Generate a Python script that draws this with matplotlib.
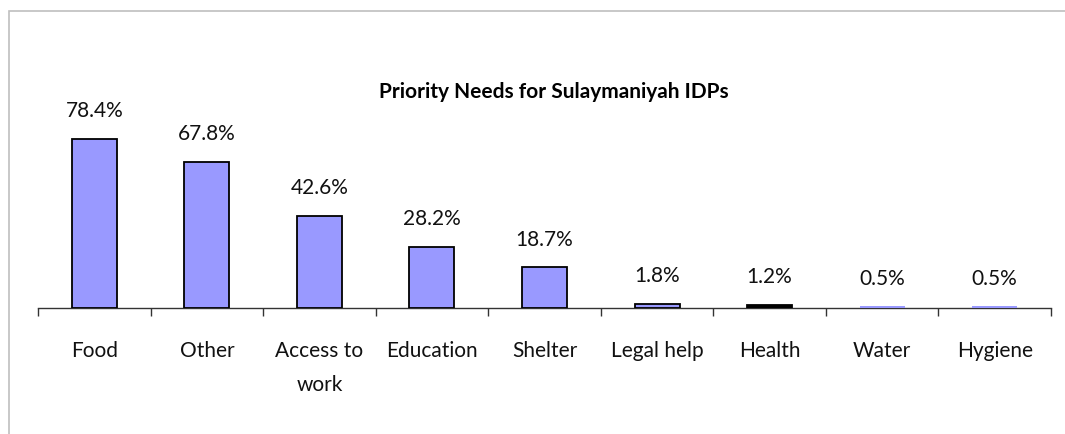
import matplotlib
matplotlib.use("Agg")
import matplotlib.pyplot as plt
from matplotlib.patches import Rectangle
import numpy as np

categories = ["Food", "Other", "Access to\nwork", "Education", "Shelter",
              "Legal help", "Health", "Water", "Hygiene"]
values = [78.4, 67.8, 42.6, 28.2, 18.7, 1.8, 1.2, 0.5, 0.5]
bar_colors = ["#9999FF", "#9999FF", "#9999FF", "#9999FF", "#9999FF",
              "#9999FF", "#000000", "#9999FF", "#9999FF"]
edge_colors = ["black"] * 7 + ["none", "none"]
title = "Priority Needs for Sulaymaniyah IDPs"

plt.rcParams['font.family'] = ['Lato', 'DejaVu Sans']

fig = plt.figure(figsize=(10.65, 4.34), dpi=100)
fig.patch.set_facecolor("white")
fig.add_artist(Rectangle((9/1065, -0.1), 1.2, 1 - 11/434 + 0.1,
                         transform=fig.transFigure, fill=False,
                         edgecolor="#BFBFBF", linewidth=1.2))

ax = fig.add_axes([38/1065, 1 - 307.5/434, (1051 - 38)/1065, (307.5 - 92.5)/434])
x = np.arange(len(categories))
ax.bar(x, values, width=0.40, color=bar_colors, edgecolor=edge_colors, linewidth=1.3, zorder=3)
ax.set_xlim(-0.5, len(categories) - 0.5)
ax.set_ylim(0, 100)

for xi, v in zip(x, values):
    ax.annotate(f"{v:.1f}%", (xi, v), xytext=(0, 20), textcoords="offset points",
                ha="center", va="center", fontsize=15, color="#111111")

for s in ["top", "right", "left"]:
    ax.spines[s].set_visible(False)
ax.spines["bottom"].set_linewidth(1.0)
ax.spines["bottom"].set_color("#333333")
ax.set_yticks([])
ax.set_xticks(x)
ax.set_xticklabels(categories, fontsize=15, linespacing=1.9, color="#111111")
ax.tick_params(axis="x", which="major", length=0, pad=24)
ax.set_xticks(np.arange(-0.5, len(categories)), minor=True)
ax.tick_params(axis="x", which="minor", length=6, width=1.0, color="#333333", direction="out")

fig.text(554/1065, 1 - 92/434, title, ha="center", va="center",
         fontsize=15, fontweight="bold", color="black")

fig.savefig("out.png", dpi=100)
